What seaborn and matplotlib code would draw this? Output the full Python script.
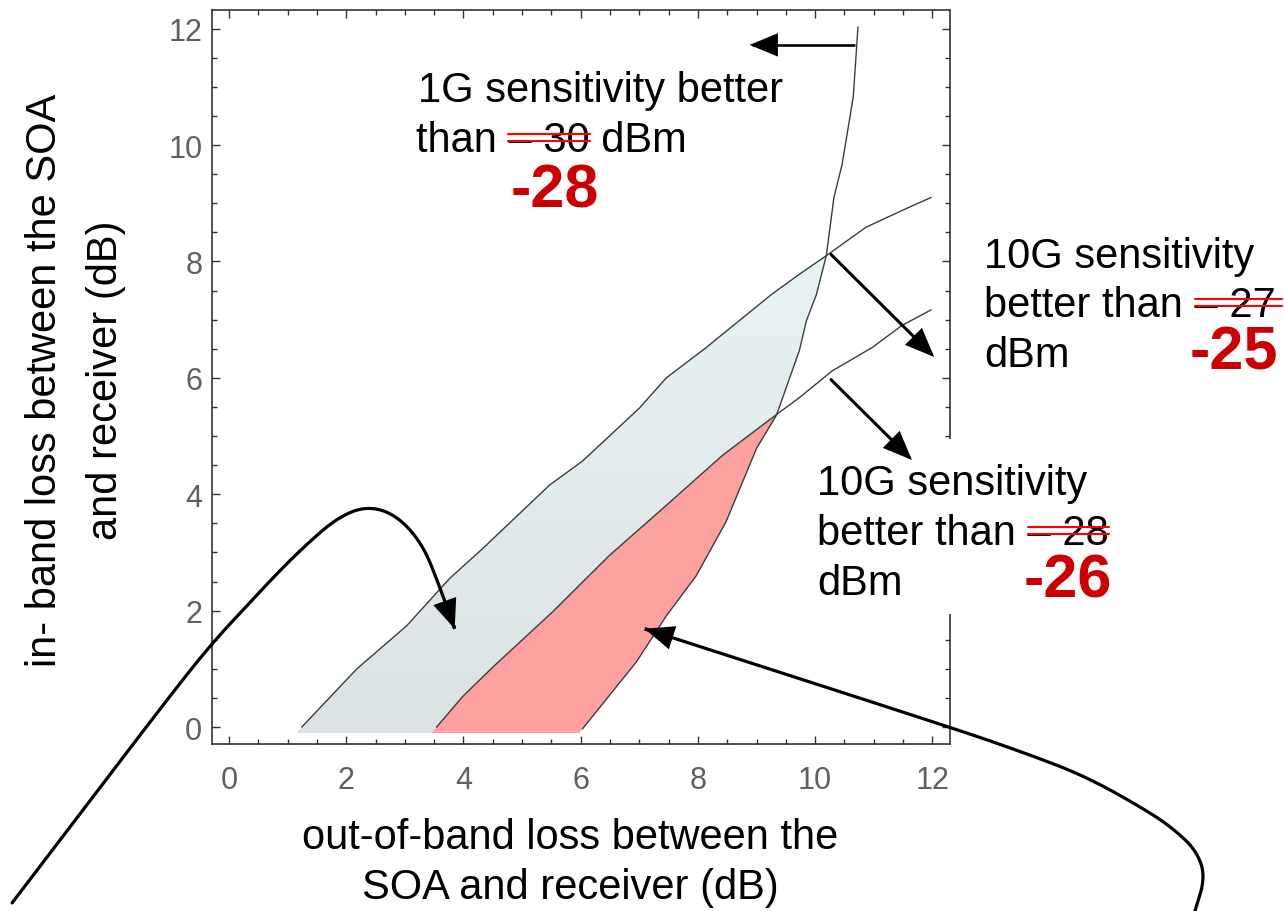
import numpy as np
import pandas as pd
import matplotlib
matplotlib.use("Agg")
import matplotlib.pyplot as plt
import seaborn as sns
from matplotlib.patches import FancyArrowPatch, Rectangle, ArrowStyle
from matplotlib.path import Path
from matplotlib.lines import Line2D
from matplotlib.font_manager import FontProperties
from matplotlib.colors import LinearSegmentedColormap
from matplotlib.ticker import MultipleLocator

# ---------------- data ----------------
# 1G sensitivity boundary (-28 dBm)
g1_x = [10.73, 10.65, 10.46, 10.32, 10.19, 10.02, 9.85, 9.73, 9.34, 9.00, 8.48, 7.97, 7.46, 6.95, 6.03]
g1_y = [12.03, 10.83, 9.67, 9.10, 8.10, 7.43, 6.98, 6.47, 5.36, 4.79, 3.53, 2.60, 1.91, 1.12, -0.03]
# 10G sensitivity boundary (-25 dBm)
u_x = [1.24, 2.18, 3.03, 3.76, 4.33, 5.47, 6.03, 7.00, 7.46, 8.14, 9.25, 9.73, 10.19, 10.87, 11.60, 11.98]
u_y = [0.00, 1.00, 1.74, 2.55, 3.07, 4.16, 4.57, 5.48, 6.00, 6.52, 7.43, 7.78, 8.10, 8.59, 8.93, 9.10]
# 10G sensitivity boundary (-26 dBm)
l_x = [3.54, 3.99, 4.50, 5.52, 6.49, 7.46, 8.42, 9.30, 9.73, 10.29, 10.97, 11.48, 11.98]
l_y = [0.00, 0.53, 1.03, 1.98, 2.95, 3.81, 4.67, 5.34, 5.66, 6.12, 6.52, 6.90, 7.17]

x_ticks = [0, 2, 4, 6, 8, 10, 12]
y_ticks = [0, 2, 4, 6, 8, 10, 12]

# callout arrow paths (annotation decoration, data units)
left_callout_x = [-3.70, -1.00, -0.29, 0.30, 0.80, 1.30, 1.85, 2.35, 2.85, 3.30, 3.58, 3.85]
left_callout_y = [-3.02, 0.55, 1.44, 2.08, 2.62, 3.12, 3.60, 3.80, 3.65, 3.15, 2.45, 1.69]
right_callout_x = [16.46, 16.66, 16.50, 16.15, 15.72, 14.63, 13.54, 12.30, 7.09]
right_callout_y = [-3.22, -2.57, -2.12, -1.78, -1.47, -0.85, -0.43, 0.00, 1.69]
arrow_1g = ([10.66, 8.88], [11.72, 11.72])
arrow_10g_a = ([10.27, 12.03], [8.12, 6.36])
arrow_10g_b = ([10.27, 11.65], [5.97, 4.59])

# ---------------- style ----------------
sns.set_theme(style="ticks")
plt.rcParams["font.family"] = ["Liberation Sans", "DejaVu Sans"]

W, H = 1284, 912
fig = plt.figure(figsize=(W / 100, H / 100), dpi=100)
fig.patch.set_facecolor("white")
ax = fig.add_axes([212 / W, 1 - 745 / H, (950 - 212) / W, (745 - 11) / H])
ax.set_facecolor("white")


def x_at(y, cx, cy):
    cx = np.asarray(cx, float)
    cy = np.asarray(cy, float)
    o = np.argsort(cy)
    cx, cy = cx[o], cy[o]
    y = np.asarray(y, float)
    x = np.interp(y, cy, cx)
    lo = y < cy[0]
    s = (cx[1] - cx[0]) / (cy[1] - cy[0])
    x[lo] = cx[0] + (y[lo] - cy[0]) * s
    return x


grid = np.linspace(0, 12, 4801)
y_cross_u = grid[np.argmax(x_at(grid, u_x, u_y) >= x_at(grid, g1_x, g1_y))]
y_cross_l = grid[np.argmax(x_at(grid, l_x, l_y) >= x_at(grid, g1_x, g1_y))]

# blue band (between -25 and -26 curves, left of the 1G curve)
yb = np.linspace(-0.1, y_cross_u, 400)
left_b = x_at(yb, u_x, u_y)
right_b = np.minimum(x_at(yb, l_x, l_y), x_at(yb, g1_x, g1_y))
poly_b = ax.fill_betweenx(yb, left_b, right_b, facecolor="none", edgecolor="none", zorder=1)
cmap_b = LinearSegmentedColormap.from_list("band", ["#dbe2e3", "#e8f3f5"])
im = ax.imshow(np.linspace(0, 1, 256)[:, None], extent=[0, 12.3, -0.1, y_cross_u],
               origin="lower", cmap=cmap_b, aspect="auto", zorder=1, interpolation="bilinear")
im.set_clip_path(poly_b.get_paths()[0], transform=ax.transData)

# red band (right of -26 curve, left of 1G curve)
yr = np.linspace(-0.1, y_cross_l, 400)
ax.fill_betweenx(yr, x_at(yr, l_x, l_y), x_at(yr, g1_x, g1_y),
                 facecolor="#fda0a0", edgecolor="none", zorder=1)

# boundary curves
for cx, cy in [(g1_x, g1_y), (u_x, u_y), (l_x, l_y)]:
    sns.lineplot(x=cx, y=cy, sort=False, estimator=None, ax=ax,
                 color="#3c3c3c", linewidth=1.0, zorder=2)


# ---------------- arrows ----------------
def chaikin(xs, ys, it=5):
    P = np.column_stack([xs, ys]).astype(float)
    for _ in range(it):
        Q = 0.75 * P[:-1] + 0.25 * P[1:]
        R = 0.25 * P[:-1] + 0.75 * P[1:]
        new = np.empty((2 * len(Q), 2))
        new[0::2] = Q
        new[1::2] = R
        P = np.vstack([P[:1], new, P[-1:]])
    return P


def arrow(xs, ys, lw=2.2, smooth=False):
    pts = chaikin(xs, ys) if smooth else np.column_stack([xs, ys])
    a = FancyArrowPatch(path=Path(pts),
                        arrowstyle=ArrowStyle("-|>", head_length=17, head_width=7),
                        mutation_scale=1, lw=lw, color="black", clip_on=False,
                        zorder=5, transform=ax.transData, joinstyle="miter")
    ax.add_patch(a)


arrow(left_callout_x, left_callout_y, lw=2.3, smooth=True)
arrow(right_callout_x, right_callout_y, lw=2.3, smooth=True)
arrow(*arrow_1g, lw=1.9)
arrow(*arrow_10g_a, lw=2.2)
arrow(*arrow_10g_b, lw=2.2)

# white patch of the text box that hides part of the right frame
ax.add_patch(Rectangle((805 / W, 1 - 615 / H), (1120 - 805) / W, (615 - 440) / H,
                       transform=fig.transFigure, facecolor="white", edgecolor="none",
                       clip_on=False, zorder=3))

# ---------------- axes ----------------
ax.set_xlim(-0.29, 12.3)
ax.set_ylim(-0.29, 12.32)
ax.set_xticks(x_ticks)
ax.set_yticks(y_ticks)
ax.xaxis.set_minor_locator(MultipleLocator(0.5))
ax.yaxis.set_minor_locator(MultipleLocator(0.5))
ax.tick_params(which="both", direction="in", top=True, right=True, color="#333333", width=1.0)
ax.tick_params(which="major", length=5.7, labelsize=22, labelcolor="#606060")
ax.tick_params(axis="x", which="major", pad=15)
ax.tick_params(axis="y", which="major", pad=7)
ax.tick_params(which="minor", length=3.6)
for s in ax.spines.values():
    s.set_color("#333333")
    s.set_linewidth(1.2)

ax.set_xlabel("out-of-band loss between the\nSOA and receiver (dB)", fontsize=30,
              color="black", linespacing=1.32)
ax.xaxis.set_label_coords(0.485, -0.0995)
ax.set_ylabel("in- band loss between the SOA\nand receiver (dB)", fontsize=30,
              color="black", linespacing=1.68)
ax.yaxis.set_label_coords(-0.1165, 0.497)

# ---------------- annotation texts ----------------
FS = 30


def ptext(px, py, s, **kw):
    return fig.text(px / W, 1 - py / H, s, ha="left", va="baseline", **kw)


renderer = fig.canvas.get_renderer()
fp = FontProperties(family="Liberation Sans", size=FS)


def tw(s):
    w, h, d = renderer.get_text_width_height_descent(s, fp, ismath=False)
    return w


def strike(px, py, full, suffix, struck, extra=0):
    x0 = px + tw(full) - tw(suffix)
    x1 = x0 + tw(struck) + extra
    for off in (17.5, 10.5):
        fig.add_artist(Line2D([x0 / W, x1 / W], [1 - (py - off) / H] * 2,
                              color="#ff0000", lw=1.5, transform=fig.transFigure, zorder=6))


RED = "#cc0000"
# 1G block
ptext(418, 102, "1G sensitivity better", fontsize=FS, color="black")
ptext(416, 152, "than – 30 dBm", fontsize=FS, color="black")
strike(416, 152, "than – 30 dBm", "– 30 dBm", "– 30")
ptext(511, 208, "-28", fontsize=44, fontweight="bold", color=RED)

# upper 10G block
ptext(984, 268, "10G sensitivity", fontsize=FS, color="black")
ptext(984, 317, "better than – 27", fontsize=FS, color="black")
strike(984, 317, "better than – 27", "– 27", "– 27", extra=6)
ptext(984, 367, "dBm", fontsize=FS, color="black")
ptext(1190, 370, "-25", fontsize=44, fontweight="bold", color=RED)

# lower 10G block
ptext(817, 495, "10G sensitivity", fontsize=FS, color="black")
ptext(817, 545, "better than – 28", fontsize=FS, color="black")
strike(817, 545, "better than – 28", "– 28", "– 28")
ptext(817, 595, "dBm", fontsize=FS, color="black")
ptext(1024, 598, "-26", fontsize=44, fontweight="bold", color=RED)

fig.savefig("out.png", dpi=100, facecolor="white")
